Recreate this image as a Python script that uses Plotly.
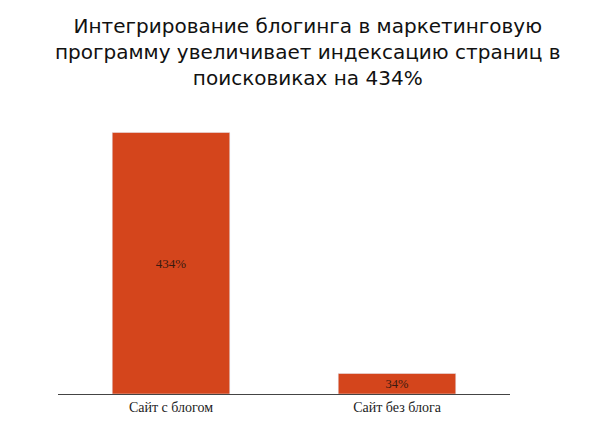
import plotly.graph_objects as go

categories = ["Сайт с блогом", "Сайт без блога"]
values = [434, 34]
labels = ["434%", "34%"]

fig = go.Figure(go.Bar(
    x=categories, y=values, text=labels, textposition="inside",
    insidetextanchor="middle",
    textfont=dict(family="Liberation Serif", size=13, color="#3a1a10"),
    marker=dict(color="#d4451c"), width=0.52,
))
fig.update_layout(
    width=599, height=428,
    margin=dict(l=50, r=97, t=104, b=42),
    paper_bgcolor="white", plot_bgcolor="white",
    showlegend=False,
    annotations=[dict(
        text="Интегрирование блогинга в маркетинговую<br>программу увеличивает индексацию страниц в<br>поисковиках на 434%",
        xref="paper", yref="paper", x=(300 - 50) / 452, y=1 + (104 - 4) / 282,
        xanchor="center", yanchor="top", showarrow=False,
        font=dict(family="DejaVu Sans", size=20, color="#111"),
    )],
    xaxis=dict(showline=True, linecolor="#444", linewidth=1, ticks="",
               tickfont=dict(family="Liberation Serif", size=14, color="#222")),
    yaxis=dict(range=[0, 468], visible=False),
)
fig.write_html("out.html")
